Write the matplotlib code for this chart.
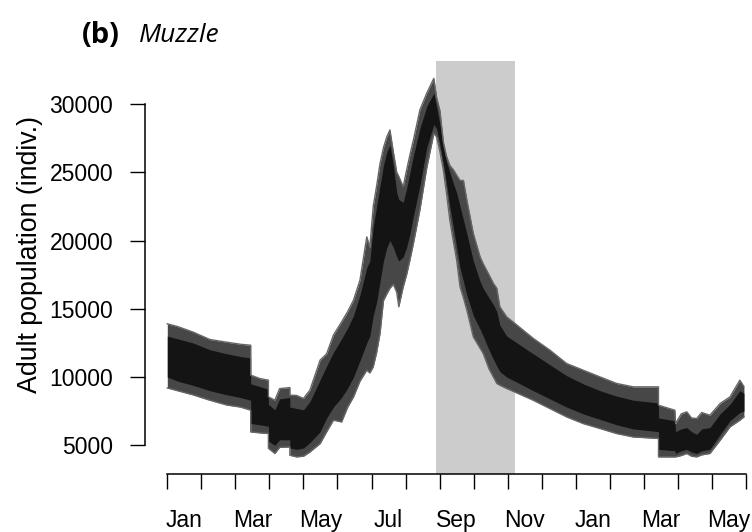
import matplotlib
matplotlib.use('Agg')
import matplotlib.pyplot as plt
import numpy as np

# time in months since 1 Jan (year 1); steps are repeated time points
MONTHS = [0.00, 0.30, 0.75, 1.25, 1.75, 2.15, 2.45, 2.45, 2.72, 2.97,
          2.97, 3.16, 3.30, 3.60, 3.60, 3.80, 4.00, 4.19, 4.49, 4.68,
          4.88, 5.12, 5.30, 5.47, 5.66, 5.86, 5.95, 6.05, 6.15, 6.25,
          6.35, 6.45, 6.54, 6.64, 6.74, 6.80, 6.93, 7.03, 7.13, 7.23,
          7.42, 7.62, 7.83, 7.91, 8.01, 8.11, 8.20, 8.30, 8.40, 8.50,
          8.60, 8.70, 8.80, 8.99, 9.19, 9.28, 9.45, 9.58, 9.68, 9.77,
          9.97, 10.21, 10.75, 11.24, 11.73, 12.22, 12.71, 13.20, 13.69, 14.43,
          14.43, 14.91, 14.93, 15.10, 15.26, 15.40, 15.55, 15.70, 15.94, 16.24,
          16.53, 16.82, 16.94]

# envelope of the simulated trajectories (adults)
UPPER = [13900, 13700, 13300, 12750, 12550, 12400, 12330, 10140, 9890, 9770,
         8550, 8300, 9150, 9230, 8670, 8650, 8430, 9040, 11240, 11700,
         13070, 14040, 14800, 15630, 17100, 20270, 19500, 22500, 24000, 25650,
         26800, 27600, 28100, 26500, 25000, 24700, 23940, 25160, 26300, 27360,
         29560, 30780, 31880, 30500, 29500, 27200, 26200, 25500, 25200, 24800,
         24400, 24400, 22960, 20520, 18800, 18300, 17500, 16860, 16500, 15140,
         14410, 13930, 12830, 11970, 10990, 10500, 10010, 9530, 9280, 9280,
         7935, 7570, 6600, 7300, 7450, 7000, 6960, 7400, 7200, 8060,
         8545, 9770, 9300]
LOWER = [9200, 9000, 8700, 8300, 7950, 7800, 7570, 5980, 5910, 5860,
         4780, 4400, 4850, 4880, 4270, 4150, 4200, 4510, 5130, 5980,
         6840, 6710, 7800, 8545, 9700, 10500, 10300, 10750, 11800, 13200,
         15600, 16100, 16500, 16800, 16200, 15150, 16600, 17500, 18600, 19790,
         22230, 25300, 27850, 27600, 26500, 25160, 23500, 21500, 20000, 18570,
         16610, 15800, 14900, 12940, 12100, 11730, 10600, 10000, 9530, 9400,
         9160, 8900, 8300, 7690, 7080, 6590, 6230, 5860, 5610, 5500,
         4150, 4150, 4150, 4250, 4400, 4200, 4150, 4300, 4400, 5370,
         6350, 6840, 7080]

# dense core where most trajectories overlap
CORE_HI = [13000, 12800, 12500, 12000, 11700, 11500, 11400, 9500, 9300, 9100,
           8000, 7600, 8400, 8500, 7800, 7700, 7600, 8200, 9800, 10800,
           11800, 12800, 13600, 14500, 16000, 18000, 18500, 21000, 22500, 24000,
           25500, 26500, 27000, 25500, 23500, 23000, 22800, 23800, 25000, 26200,
           28200, 29800, 30800, 29800, 28500, 26800, 25800, 25000, 24200, 23500,
           22500, 21500, 20500, 18500, 17000, 16500, 15800, 15300, 14800, 13800,
           13000, 12600, 11700, 10900, 10100, 9500, 9000, 8600, 8300, 8100,
           7000, 6800, 6000, 6200, 6300, 6000, 5800, 6200, 6300, 7300,
           8000, 9000, 8800]
CORE_LO = [10000, 9700, 9400, 9000, 8700, 8500, 8300, 6600, 6500, 6400,
           5300, 5000, 5400, 5400, 4800, 4700, 4800, 5200, 6000, 7000,
           7800, 8500, 9200, 10000, 11200, 12500, 13000, 14500, 15500, 17000,
           18500, 19500, 20000, 19500, 18800, 18500, 18800, 19500, 20500, 21800,
           24000, 26800, 28500, 28200, 27000, 25600, 24200, 22500, 21000, 19500,
           18000, 17000, 16000, 14500, 13500, 13000, 12000, 11300, 10800, 10400,
           10000, 9700, 9000, 8400, 7800, 7300, 6900, 6500, 6200, 6000,
           4700, 4600, 4400, 4600, 4700, 4500, 4400, 4600, 4700, 5800,
           6800, 7400, 7500]

SHADE_START, SHADE_END = 7.89, 10.21
YTICKS = [5000, 10000, 15000, 20000, 25000, 30000]
MONTH_LABELS = ['Jan', 'Mar', 'May', 'Jul', 'Sep', 'Nov', 'Jan', 'Mar', 'May']

plt.rcParams['font.family'] = ['Liberation Sans', 'DejaVu Sans']

fig = plt.figure(figsize=(7.52, 5.32), dpi=100)
ax = fig.add_axes([145 / 752, 58 / 532, 607 / 752, 413 / 532])

ax.axvspan(SHADE_START, SHADE_END, color='#cccccc', lw=0, zorder=0)
ax.fill_between(MONTHS, LOWER, UPPER, color='#474747', lw=0, zorder=1)
ax.fill_between(MONTHS, CORE_LO, CORE_HI, color='#141414', lw=0, zorder=2)
ax.plot(MONTHS, UPPER, color='#666666', lw=1.0, zorder=3)
ax.plot(MONTHS, LOWER, color='#666666', lw=1.0, zorder=3)

ax.set_xlim(-0.655, 17.177)
ax.set_ylim(2897, 33150)

for s in ['top', 'right']:
    ax.spines[s].set_visible(False)
ax.spines['left'].set_bounds(5000, 30000)
ax.spines['bottom'].set_bounds(0, 17)
for s in ['left', 'bottom']:
    ax.spines[s].set_linewidth(1.1)

ax.set_yticks(YTICKS)
ax.set_yticklabels([str(t) for t in YTICKS])
ax.set_xticks(np.arange(18))
ax.set_xticklabels([])
ax.set_xticks(np.arange(0.5, 17, 2), minor=True)
ax.set_xticklabels(MONTH_LABELS, minor=True)
ax.tick_params(axis='both', which='major', length=10.8, width=1.0,
               labelsize=16.5, direction='out')
ax.tick_params(axis='y', pad=12)
ax.tick_params(axis='x', which='minor', length=0, pad=25, labelsize=16.5)

fig.text(30 / 752, 1 - 254 / 532, 'Adult population (indiv.)', rotation=90,
         ha='center', va='center', fontsize=19.3)

fig.text(82 / 752, 1 - 43 / 532, '(b)', fontsize=21, fontweight='bold',
         family=['Open Sans', 'DejaVu Sans'], va='baseline')
fig.text(139 / 752, 1 - 42 / 532, 'Muzzle', fontsize=19, style='italic',
         family=['Open Sans', 'DejaVu Sans'], va='baseline')

fig.savefig('out.png', dpi=100)
